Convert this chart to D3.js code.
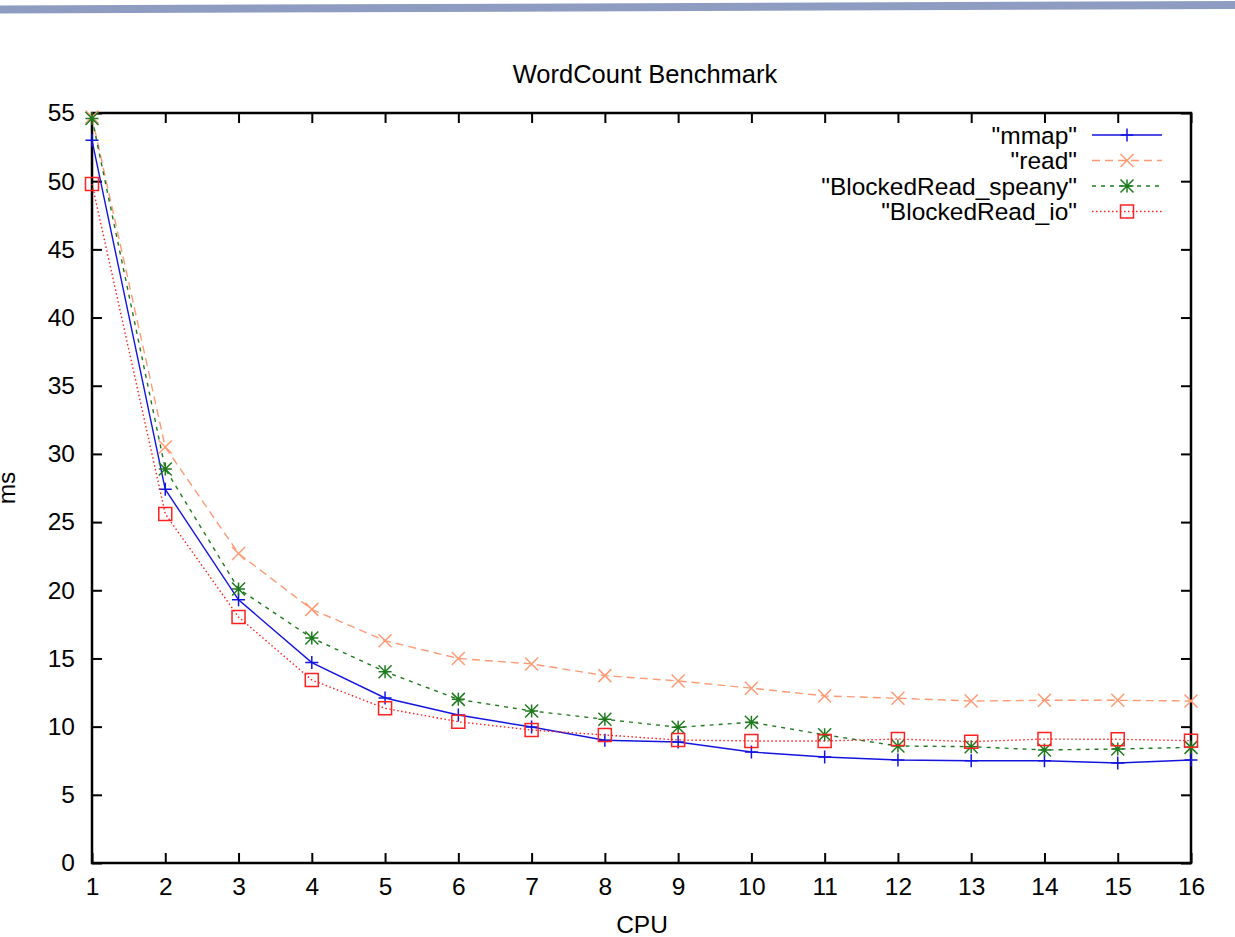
<html lang="en">
<head>
    <meta charset="utf-8">
    <title>WordCount Benchmark</title>
    <script type="text/javascript" src="https://cdn.jsdelivr.net/npm/d3@7"></script>
    <style>
        body { margin: 0; background: #fff; }
        .axis text {
            font-family: "Liberation Sans", Arial, sans-serif;
            font-size: 24.5px;
            fill: #000;
        }
        .axis line { stroke: #000; stroke-width: 2; }
        .axis path { display: none; }
        text { font-family: "Liberation Sans", Arial, sans-serif; }
    </style>
</head>
<body>
<script type="text/javascript">
    // data
    var cpus = [1, 2, 3, 4, 5, 6, 7, 8, 9, 10, 11, 12, 13, 14, 15, 16];
    var mmap = [53.0, 27.4, 19.3, 14.7, 12.1, 10.85, 9.97, 9.0, 8.87, 8.14, 7.77, 7.55, 7.5, 7.5, 7.33, 7.55];
    var readVals = [54.7, 30.5, 22.7, 18.6, 16.3, 15.0, 14.6, 13.74, 13.35, 12.82, 12.25, 12.08, 11.88, 11.93, 11.93, 11.88];
    var speany = [54.6, 28.9, 20.1, 16.5, 14.03, 12.0, 11.15, 10.54, 9.95, 10.32, 9.4, 8.58, 8.53, 8.29, 8.36, 8.48];
    var blockedIo = [49.8, 25.6, 18.04, 13.42, 11.34, 10.36, 9.75, 9.39, 9.02, 8.95, 8.95, 9.09, 8.9, 9.09, 9.07, 8.97];
    var yTicks = [0, 5, 10, 15, 20, 25, 30, 35, 40, 45, 50, 55];
    var seriesNames = ['"mmap"', '"read"', '"BlockedRead_speany"', '"BlockedRead_io"'];

    var w = 1235;
    var h = 937;
    var plot = {left: 92, right: 1191, top: 113, bottom: 863};

    var svg = d3.select("body")
        .append("svg")
        .attr("width", w)
        .attr("height", h);

    // slanted slide band at the very top
    svg.append("polygon")
        .attr("points", "0,5.5 1235,1 1235,9 0,13.5")
        .attr("fill", "#8f9cc1");

    var xScale = d3.scaleLinear()
        .domain([1, 16])
        .range([plot.left, plot.right]);

    var yScale = d3.scaleLinear()
        .domain([0, 55])
        .range([plot.bottom, plot.top]);

    var xAxis = d3.axisBottom(xScale).tickValues(cpus).tickFormat(d3.format("d"))
        .tickSizeInner(-10).tickSizeOuter(0).tickPadding(15);
    var yAxis = d3.axisLeft(yScale).tickValues(yTicks)
        .tickSizeInner(-10).tickSizeOuter(0).tickPadding(17);
    var xAxisTop = d3.axisTop(xScale).tickValues(cpus).tickFormat("")
        .tickSizeInner(-10).tickSizeOuter(0);
    var yAxisRight = d3.axisRight(yScale).tickValues(yTicks).tickFormat("")
        .tickSizeInner(-10).tickSizeOuter(0);

    svg.append("g").attr("class", "axis")
        .attr("transform", "translate(0," + plot.bottom + ")")
        .call(xAxis);
    svg.append("g").attr("class", "axis")
        .attr("transform", "translate(" + plot.left + ",0)")
        .call(yAxis);
    svg.append("g").attr("class", "axis")
        .attr("transform", "translate(0," + plot.top + ")")
        .call(xAxisTop);
    svg.append("g").attr("class", "axis")
        .attr("transform", "translate(" + plot.right + ",0)")
        .call(yAxisRight);

    // frame
    svg.append("rect")
        .attr("x", plot.left)
        .attr("y", plot.top)
        .attr("width", plot.right - plot.left)
        .attr("height", plot.bottom - plot.top)
        .attr("fill", "none")
        .attr("stroke", "#000")
        .attr("stroke-width", 2.5);

    // titles
    svg.append("text")
        .attr("x", 645)
        .attr("y", 83)
        .attr("text-anchor", "middle")
        .attr("font-size", "25.5px")
        .text("WordCount Benchmark");

    svg.append("text")
        .attr("x", 642)
        .attr("y", 933)
        .attr("text-anchor", "middle")
        .attr("font-size", "24.5px")
        .text("CPU");

    svg.append("text")
        .attr("transform", "translate(15,488) rotate(-90)")
        .attr("text-anchor", "middle")
        .attr("font-size", "24.5px")
        .text("ms");

    // point markers (gnuplot style, stroked)
    var s = 6.5;
    function plusPath(x, y) {
        return "M" + (x - s) + "," + y + "H" + (x + s) + "M" + x + "," + (y - s) + "V" + (y + s);
    }
    function crossPath(x, y) {
        return "M" + (x - s) + "," + (y - s) + "L" + (x + s) + "," + (y + s) +
            "M" + (x - s) + "," + (y + s) + "L" + (x + s) + "," + (y - s);
    }
    function starPath(x, y) {
        return plusPath(x, y) + crossPath(x, y);
    }
    function boxPath(x, y) {
        return "M" + (x - s) + "," + (y - s) + "H" + (x + s) + "V" + (y + s) + "H" + (x - s) + "Z";
    }

    var series = [
        {name: seriesNames[0], values: mmap, color: "#1414e0", dash: null, marker: plusPath},
        {name: seriesNames[1], values: readVals, color: "#ff9a75", dash: "8,5", marker: crossPath},
        {name: seriesNames[2], values: speany, color: "#1f7a1f", dash: "4,5", marker: starPath},
        {name: seriesNames[3], values: blockedIo, color: "#ff2020", dash: "1.5,2.5", marker: boxPath}
    ];

    var lineFunction = d3.line()
        .x(function(d, i) { return xScale(cpus[i]); })
        .y(function(d) { return yScale(d); });

    series.forEach(function(ser) {
        svg.append("path")
            .attr("d", lineFunction(ser.values))
            .attr("fill", "none")
            .attr("stroke", ser.color)
            .attr("stroke-width", 1.4)
            .attr("stroke-dasharray", ser.dash);

        svg.append("g").selectAll("path")
            .data(ser.values)
            .enter()
            .append("path")
            .attr("d", function(d, i) { return ser.marker(xScale(cpus[i]), yScale(d)); })
            .attr("fill", "none")
            .attr("stroke", ser.color)
            .attr("stroke-width", 1.5);
    });

    // legend
    var legend = svg.append("g");
    series.forEach(function(ser, i) {
        var ly = 135 + i * 25.5;
        legend.append("text")
            .attr("x", 1077)
            .attr("y", ly + 8.5)
            .attr("text-anchor", "end")
            .attr("font-size", "24.5px")
            .text(ser.name);
        legend.append("line")
            .attr("x1", 1092)
            .attr("x2", 1162)
            .attr("y1", ly)
            .attr("y2", ly)
            .attr("stroke", ser.color)
            .attr("stroke-width", 1.4)
            .attr("stroke-dasharray", ser.dash);
        legend.append("path")
            .attr("d", ser.marker(1127, ly))
            .attr("fill", "none")
            .attr("stroke", ser.color)
            .attr("stroke-width", 1.5);
    });
</script>
</body>
</html>
